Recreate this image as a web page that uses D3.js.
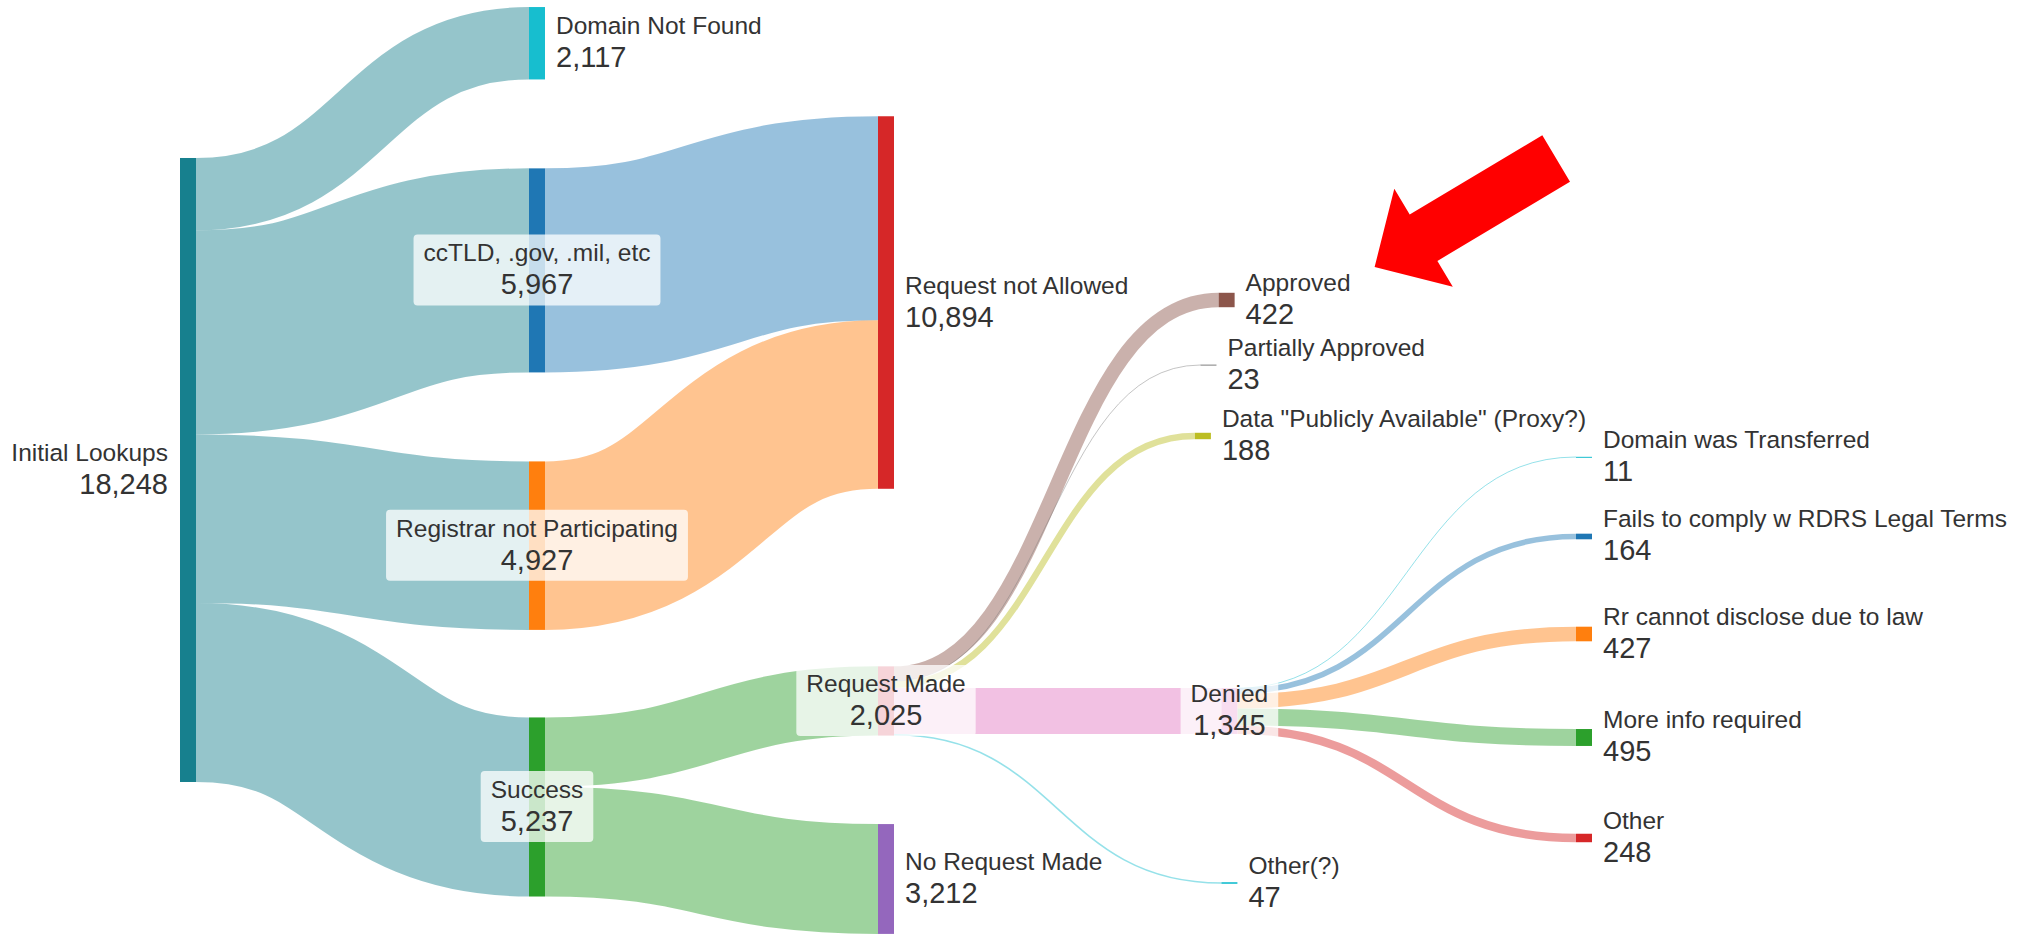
<!DOCTYPE html>
<html><head><meta charset="utf-8">
<script src="https://cdn.jsdelivr.net/npm/d3@7"></script>
<style>html,body{margin:0;padding:0;background:#fff;} svg{display:block;}</style>
</head><body>
<svg id="chart" width="2018" height="934"></svg>
<script>
// ---------------- DATA ----------------
const nodeNames = [
  "Initial Lookups",
  "Domain Not Found",
  "ccTLD, .gov, .mil, etc",
  "Registrar not Participating",
  "Success",
  "Request not Allowed",
  "Request Made",
  "No Request Made",
  "Approved",
  "Partially Approved",
  "Data \"Publicly Available\" (Proxy?)",
  "Denied",
  "Other(?)",
  "Domain was Transferred",
  "Fails to comply w RDRS Legal Terms",
  "Rr cannot disclose due to law",
  "More info required",
  "Other"
];
const linkSources = [
  "Initial Lookups","Initial Lookups","Initial Lookups","Initial Lookups",
  "ccTLD, .gov, .mil, etc","Registrar not Participating",
  "Success","Success",
  "Request Made","Request Made","Request Made","Request Made","Request Made",
  "Denied","Denied","Denied","Denied","Denied"
];
const linkTargets = [
  "Domain Not Found","ccTLD, .gov, .mil, etc","Registrar not Participating","Success",
  "Request not Allowed","Request not Allowed",
  "Request Made","No Request Made",
  "Approved","Partially Approved","Data \"Publicly Available\" (Proxy?)","Denied","Other(?)",
  "Domain was Transferred","Fails to comply w RDRS Legal Terms","Rr cannot disclose due to law","More info required","Other"
];
const linkValues = [2117, 5967, 4927, 5237, 5967, 4927, 2025, 3212, 422, 23, 188, 1345, 47, 11, 164, 427, 495, 248];

// ---------------- LAYOUT (node placement as fractions, Plotly-style) ----------------
const nodeXFrac = [0, 0.25, 0.25, 0.25, 0.25, 0.5, 0.5, 0.5, 0.744, 0.731, 0.727, 0.746, 0.746, 1, 1, 1, 1, 1];
const nodeYFrac = [0.5032, 0.0463, 0.2895, 0.5842, 0.8640, 0.3239, 0.7505, 0.9411,
                   0.3212, 0.3908, 0.4668, 0.7612, 0.9454, 0.4893, 0.5744, 0.6788, 0.7896, 0.8972];

// ---------------- STYLE ----------------
const nodeColors = ["#17808e","#17becf","#1f77b4","#ff7f0e","#2ca02c","#d62728","#d9566a","#9467bd",
                    "#8c564b","#7f7f7f","#bcbd22","#e377c2","#17becf","#17becf","#1f77b4","#ff7f0e","#2ca02c","#d62728"];
const linkColorFrom = ["source","source","source","source","source","source","source","source",
                       "target","target","target","target","target","target","target","target","target","target"];

const W = 2018, H = 934;
const svg = d3.select("#chart");

// build graph
const nodes = nodeNames.map((name, i) => ({name, i, sourceLinks: [], targetLinks: []}));
const byName = new Map(nodes.map(n => [n.name, n]));
const links = linkValues.map((v, i) => ({source: byName.get(linkSources[i]), target: byName.get(linkTargets[i]), value: v, i}));
links.forEach(l => { l.source.sourceLinks.push(l); l.target.targetLinks.push(l); });
nodes.forEach(n => {
  n.value = Math.max(d3.sum(n.sourceLinks, l => l.value), d3.sum(n.targetLinks, l => l.value));
});
// depth
nodes.forEach(n => n.depth = 0);
let changed = true;
while (changed) {
  changed = false;
  links.forEach(l => { if (l.target.depth < l.source.depth + 1) { l.target.depth = l.source.depth + 1; changed = true; } });
}
// vertical value scale as in d3-sankey
const extent = [7, 898], pad = 89, nodeWidth = 16;
const columns = d3.groups(nodes, n => n.depth).map(d => d[1]);
const ky = d3.min(columns, c => (extent[1] - extent[0] - (c.length - 1) * pad) / d3.sum(c, n => n.value));
const maxV = d3.max(nodes, n => n.value);
const vScale = d3.scaleLinear().domain([0, maxV]).range([0, maxV * ky]);
const xScale = d3.scaleLinear().domain([0, 1]).range([180, 1576]);
const yScale = d3.scaleLinear().domain([0, 1]).range([0, H]);

nodes.forEach(n => {
  n.x0 = xScale(nodeXFrac[n.i]); n.x1 = n.x0 + nodeWidth;
  const h = vScale(n.value), cy = yScale(nodeYFrac[n.i]);
  n.y0 = cy - h / 2; n.y1 = cy + h / 2; n.cy = cy;
});
nodes.forEach(n => {
  n.sourceLinks.sort((a, b) => a.target.cy - b.target.cy);
  n.targetLinks.sort((a, b) => a.source.cy - b.source.cy);
  let y = n.y0;
  n.sourceLinks.forEach(l => { l.width = vScale(l.value); l.y0 = y + l.width / 2; y += l.width; });
  y = n.y0;
  n.targetLinks.forEach(l => { l.width = vScale(l.value); l.y1 = y + l.width / 2; y += l.width; });
});

// links
const linkPath = d3.linkHorizontal().source(l => [l.source.x1, l.y0]).target(l => [l.target.x0, l.y1]);
svg.append("g").attr("fill", "none")
  .selectAll("path").data(links).join("path")
  .attr("d", linkPath)
  .attr("stroke", l => nodeColors[(linkColorFrom[l.i] === "source" ? l.source : l.target).i])
  .attr("stroke-opacity", 0.46)
  .attr("stroke-width", l => Math.max(1, l.width));

// nodes
svg.append("g").selectAll("rect").data(nodes).join("rect")
  .attr("x", n => n.x0).attr("y", n => n.y0)
  .attr("width", nodeWidth).attr("height", n => Math.max(1, n.y1 - n.y0))
  .attr("fill", n => nodeColors[n.i]);

// labels
const fmt = d3.format(",");
const labelG = svg.append("g").attr("font-family", "'Liberation Sans', Arial, sans-serif").attr("fill", "#333");
nodes.forEach(n => {
  let anchor, x;
  if (n.targetLinks.length === 0) { anchor = "end"; x = n.x0 - 12; }
  else if (n.sourceLinks.length === 0) { anchor = "start"; x = n.x1 + 11; }
  else { anchor = "middle"; x = (n.x0 + n.x1) / 2; }
  const g = labelG.append("g").attr("transform", `translate(${x},${n.cy})`);
  const box = anchor === "middle" ? g.append("rect") : null;
  const t1 = g.append("text").attr("text-anchor", anchor).attr("y", -9).attr("font-size", 24.5).text(n.name);
  const t2 = g.append("text").attr("text-anchor", anchor).attr("y", 24).attr("font-size", 29).text(fmt(n.value));
  if (box) {
    const w = Math.max(t1.node().getComputedTextLength(), t2.node().getComputedTextLength());
    box.attr("x", -w / 2 - 10).attr("y", -36).attr("width", w + 20).attr("height", 71)
       .attr("rx", 4).attr("fill", "#fff").attr("fill-opacity", 0.75);
  }
});

// red arrow annotation pointing at "Approved"
const ap = byName.get("Approved");
const tip = [ap.x1 + 140, ap.cy - 33];
const ang = Math.atan2(-108.5, 181.5);
const u = [Math.cos(ang), Math.sin(ang)], p = [-u[1], u[0]];
const headLen = 57, headHalf = 57, shaftHalf = 27, totalLen = 211.5;
const hb = [tip[0] + u[0] * headLen, tip[1] + u[1] * headLen];
const tl = [tip[0] + u[0] * totalLen, tip[1] + u[1] * totalLen];
const pt = (b, s) => [b[0] + p[0] * s, b[1] + p[1] * s];
const arrowPts = [tip, pt(hb, -headHalf), pt(hb, -shaftHalf), pt(tl, -shaftHalf), pt(tl, shaftHalf), pt(hb, shaftHalf), pt(hb, headHalf)];
svg.append("polygon").attr("points", arrowPts.map(d => d.join(",")).join(" ")).attr("fill", "#ff0000");
</script>
</body></html>
